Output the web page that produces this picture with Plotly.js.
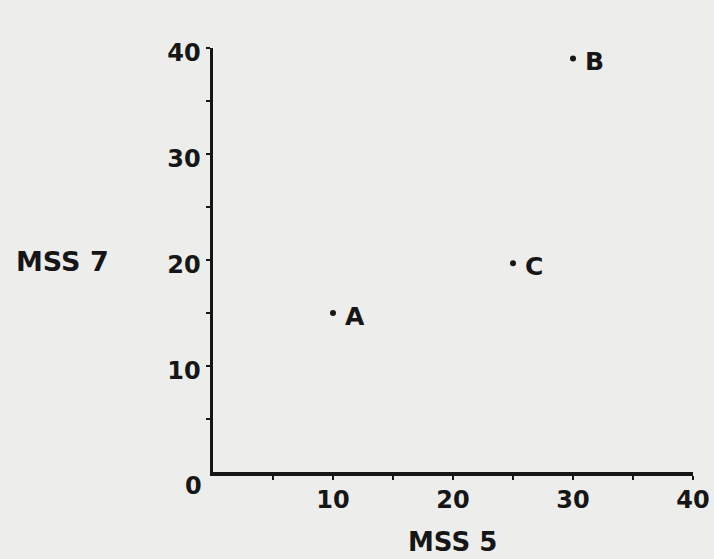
<!DOCTYPE html>
<html>
<head>
<meta charset="utf-8">
<script src="https://cdn.plot.ly/plotly-3.0.1.min.js"></script>
<style>html,body{margin:0;padding:0;background:#ededeb;}</style>
</head>
<body>
<div id="chart" style="width:714px;height:559px;"></div>
<script>
// Data
const pointLabels = ['A', 'B', 'C'];
const mss5 = [10, 30, 25];
const mss7 = [15, 39, 19.7];
const tickValues = [5, 10, 15, 20, 25, 30, 35, 40];
const tickLabels = ['', '10', '', '20', '', '30', '', '40'];
const xTitle = 'MSS 5';
const yTitle = 'MSS 7';
const originLabel = '0';

const ink = '#161616';
const bg = '#ededeb';
const fontFam = 'DejaVu Sans, sans-serif';

const trace = {
  type: 'scatter',
  mode: 'markers',
  x: mss5,
  y: mss7,
  marker: {size: 6, color: ink},
  cliponaxis: false,
  hoverinfo: 'none'
};

const axisCommon = {
  range: [0, 40],
  showgrid: false,
  zeroline: false,
  showline: true,
  linewidth: 3.5,
  linecolor: ink,
  ticks: 'outside',
  ticklen: 4,
  tickwidth: 2.5,
  tickcolor: ink,
  tickmode: 'array',
  tickvals: tickValues,
  ticktext: tickLabels,
  tickfont: {family: fontFam, size: 24, color: ink, weight: 'bold'},
  fixedrange: true
};

const plotW = 714 - 213 - 21, plotH = 559 - 48 - 87;

const annotations = pointLabels.map((lab, i) => ({
  text: lab, x: mss5[i], y: mss7[i], xref: 'x', yref: 'y', showarrow: false,
  xanchor: 'left', yanchor: 'middle', xshift: 10, yshift: -3,
  font: {family: fontFam, size: 25, color: ink, weight: 'bold'}
}));
annotations.push(
  {text: xTitle, x: (452 - 213) / plotW, y: -(542 - 472) / plotH, xref: 'paper', yref: 'paper', showarrow: false,
   font: {family: fontFam, size: 26, color: ink, weight: 'bold'}, xanchor: 'center', yanchor: 'middle'},
  {text: yTitle, x: (62 - 213) / plotW, y: (472 - 261) / plotH, xref: 'paper', yref: 'paper', showarrow: false,
   font: {family: fontFam, size: 27, color: ink, weight: 'bold'}, xanchor: 'center', yanchor: 'middle'},
  {text: originLabel, x: 0, y: 0, xref: 'x', yref: 'y', showarrow: false,
   font: {family: fontFam, size: 24, color: ink, weight: 'bold'}, xanchor: 'center', yanchor: 'middle',
   xshift: -20, yshift: -14}
);

const layout = {
  width: 714,
  height: 559,
  margin: {l: 213, r: 21, t: 48, b: 87},
  paper_bgcolor: bg,
  plot_bgcolor: bg,
  showlegend: false,
  xaxis: Object.assign({}, axisCommon, {ticklabelstandoff: 0}),
  yaxis: Object.assign({}, axisCommon, {ticklabelstandoff: 0, ticklabelshift: 5}),
  annotations: annotations
};

Plotly.newPlot('chart', [trace], layout, {staticPlot: true});
</script>
</body>
</html>
